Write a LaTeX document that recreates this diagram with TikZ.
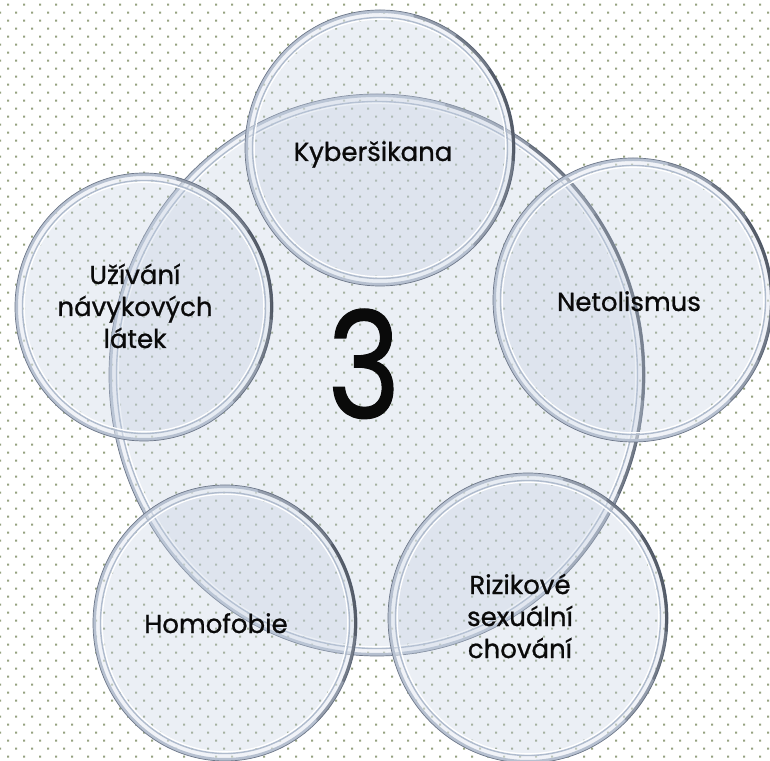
\documentclass[tikz,border=0pt]{standalone}
\usepackage{fontspec}
\setmainfont{Poppins}[FakeBold=0.9]
\definecolor{dotc}{RGB}{150,162,128}
\definecolor{glassfill}{RGB}{196,208,226}
\definecolor{rimc}{RGB}{182,192,208}
\definecolor{rimedge}{RGB}{110,120,138}
\definecolor{rimdark}{RGB}{30,35,45}
\definecolor{innerc}{RGB}{175,187,205}
\definecolor{txtc}{RGB}{10,10,10}
\tikzset{
  lbl/.style={text=txtc, font=\fontsize{26}{32}\selectfont, align=center, inner sep=0pt},
  bignum/.style={text=txtc, font=\fontsize{148}{150}\selectfont, inner sep=0pt},
  glassbody/.style={fill=glassfill, fill opacity=0.33},
  glassband/.style={fill=white, fill opacity=0.30, even odd rule},
  glassrim/.style={draw=rimc, line width=3},
  glassedge/.style={draw=rimedge, line width=0.7},
  glassinner/.style={draw=innerc, line width=1.4},
  glasshl/.style={draw=white, line width=1.2},
  glassshade/.style={draw=rimdark, line width=2.8, draw opacity=#1, line cap=round},
}
% name, cx, cy, rx, ry
\newcommand\glassdisc[5]{%
  \coordinate (#1) at (#2,#3);
  \path[glassbody] (#1) ellipse[x radius=#4, y radius=#5];
  \path[glassband] (#1) ellipse[x radius=#4, y radius=#5] (#1) ellipse[x radius={#4-8}, y radius={#5-8}];
  \draw[glassrim] (#1) ellipse[x radius={#4-1.5}, y radius={#5-1.5}];
  \draw[glassedge] (#1) ellipse[x radius=#4, y radius=#5];
  \draw[glassinner] (#1) ellipse[x radius={#4-7.5}, y radius={#5-7.5}];
  \draw[glasshl] (#1) ellipse[x radius={#4-9.2}, y radius={#5-9.2}];
  \draw[glassshade=0.22] ([shift={(#1)}]-45:{#4-1.5} and {#5-1.5}) arc[start angle=-45, end angle=75, x radius={#4-1.5}, y radius={#5-1.5}];
  \draw[glassshade=0.28] ([shift={(#1)}]-25:{#4-1.5} and {#5-1.5}) arc[start angle=-25, end angle=55, x radius={#4-1.5}, y radius={#5-1.5}];
  \draw[glassshade=0.32] ([shift={(#1)}]-5:{#4-1.5} and {#5-1.5}) arc[start angle=-5, end angle=35, x radius={#4-1.5}, y radius={#5-1.5}];
}
\begin{document}
\begin{tikzpicture}[x=1pt, y=1pt]
\useasboundingbox (0,0) rectangle (770,760);
\fill[white] (0,0) rectangle (770,760);
% dotted background
\fill[dotc] \foreach \r in {0,...,94} {
  \foreach \c in {0,...,48} {
    ({8*mod(\r+1,2)+16*\c-1}, {760-4.7-8*\r-1}) rectangle ++(2,2)
  }
};
% glass discs
\glassdisc{big}{377}{385}{268}{281}
\glassdisc{kyb}{380}{612}{135}{138}
\glassdisc{neto}{633}{460}{140}{142}
\glassdisc{uziv}{144}{453}{129}{134}
\glassdisc{homo}{225}{137}{132}{138}
\glassdisc{riz}{528}{142}{140}{145}
% texts
\node[bignum, anchor=base] (num) at (364,342) {\scalebox{0.84}[1]{3}};
\node[lbl, anchor=base] (tkyb) at (373,599) {Kyberšikana};
\node[lbl, anchor=base] (tneto) at (629,449) {Netolismus};
\node[lbl, anchor=base] (tuziv) at (135,412) {Užívání\\návykových\\látek};
\node[lbl, anchor=base] (thomo) at (216,127) {Homofobie};
\node[lbl, anchor=base] (triz) at (520,102) {Rizikové\\sexuální\\chování};
\end{tikzpicture}
\end{document}
